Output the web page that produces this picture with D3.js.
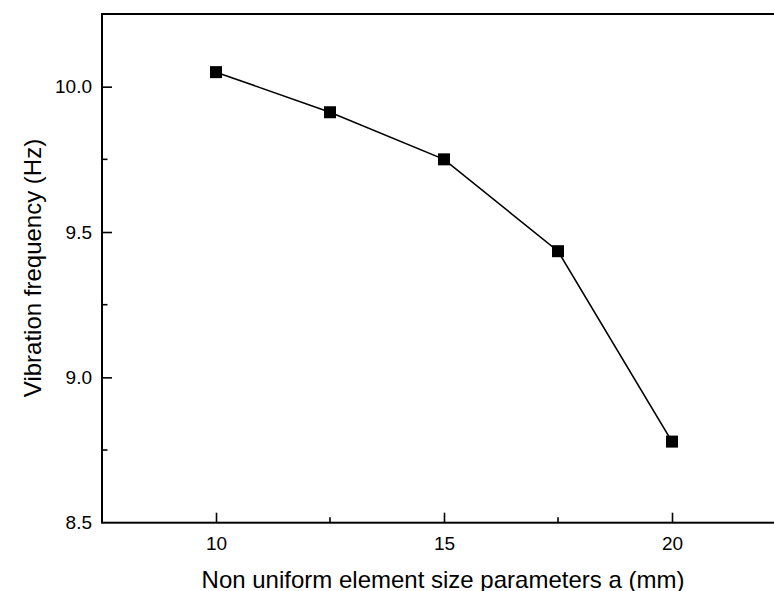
<!DOCTYPE html>
<html>
<head>
<meta charset="utf-8">
<script src="https://cdn.jsdelivr.net/npm/d3@7"></script>
<style>
  html, body { margin: 0; padding: 0; background: #fff; }
  svg { display: block; }
  text { font-family: "Liberation Sans", Arial, Helvetica, sans-serif; fill: #000; }
</style>
</head>
<body>
<svg id="chart" width="774" height="591"></svg>
<script>
// Element size parameter a (mm) and the resulting vibration frequency (Hz)
const sizes = [10, 12.5, 15, 17.5, 20];
const frequencies = [10.05, 9.912, 9.75, 9.434, 8.779];

const xMajorTicks = [10, 15, 20];
const xMinorTicks = [12.5, 17.5];
const yMajorTicks = [8.5, 9.0, 9.5, 10.0];
const yMinorTicks = [8.75, 9.25, 9.75, 10.25];

const xTitle = "Non uniform element size parameters a (mm)";
const yTitle = "Vibration frequency (Hz)";

const svg = d3.select("#chart");
const plot = { left: 102, top: 14, right: 786, bottom: 522.7 };

const x = d3.scaleLinear().domain([7.5, 22.5]).range([plot.left, plot.right]);
const y = d3.scaleLinear().domain([8.5, 10.25]).range([plot.bottom, plot.top]);

// Axes with inward ticks
const xAxis = d3.axisBottom(x).tickValues(xMajorTicks).tickSize(-10).tickPadding(14)
  .tickFormat(d3.format("d"));
const yAxis = d3.axisLeft(y).tickValues(yMajorTicks).tickSize(-10).tickPadding(10)
  .tickFormat(d3.format(".1f"));

const gx = svg.append("g").attr("transform", `translate(0,${plot.bottom})`).call(xAxis);
const gy = svg.append("g").attr("transform", `translate(${plot.left},0)`).call(yAxis);

[gx, gy].forEach(g => {
  g.select(".domain").remove();
  g.attr("font-size", null).attr("font-family", null);
  g.selectAll(".tick line").attr("stroke", "#000").attr("stroke-width", 1.6);
  g.selectAll(".tick text").style("font-size", "19px")
    .style("font-family", "'Liberation Sans', Arial, sans-serif");
});
// The corner tick at 8.5 is covered by the frame
gy.selectAll(".tick").filter(d => d === 8.5).select("line").remove();

// Minor ticks
svg.append("g").selectAll("line").data(xMinorTicks).join("line")
  .attr("x1", d => x(d)).attr("x2", d => x(d))
  .attr("y1", plot.bottom).attr("y2", plot.bottom - 5.5)
  .attr("stroke", "#000").attr("stroke-width", 1.6);
svg.append("g").selectAll("line").data(yMinorTicks).join("line")
  .attr("y1", d => y(d)).attr("y2", d => y(d))
  .attr("x1", plot.left).attr("x2", plot.left + 5.5)
  .attr("stroke", "#000").attr("stroke-width", 1.6);

// Frame
svg.append("rect")
  .attr("x", plot.left).attr("y", plot.top)
  .attr("width", plot.right - plot.left).attr("height", plot.bottom - plot.top)
  .attr("fill", "none").attr("stroke", "#000").attr("stroke-width", 2);

// Data line
const pts = sizes.map((s, i) => [s, frequencies[i]]);
svg.append("path")
  .datum(pts)
  .attr("fill", "none").attr("stroke", "#000").attr("stroke-width", 1.6)
  .attr("d", d3.line().x(d => x(d[0])).y(d => y(d[1])));

// Square markers
const ms = 12;
svg.append("g").selectAll("rect").data(pts).join("rect")
  .attr("x", d => x(d[0]) - ms / 2).attr("y", d => y(d[1]) - ms / 2)
  .attr("width", ms).attr("height", ms).attr("fill", "#000");

// Axis titles
svg.append("text")
  .attr("x", 443).attr("y", 588)
  .attr("text-anchor", "middle").style("font-size", "24px")
  .text(xTitle);
svg.append("text")
  .attr("transform", `translate(41,268) rotate(-90)`)
  .attr("text-anchor", "middle").style("font-size", "24px")
  .text(yTitle);
</script>
</body>
</html>
